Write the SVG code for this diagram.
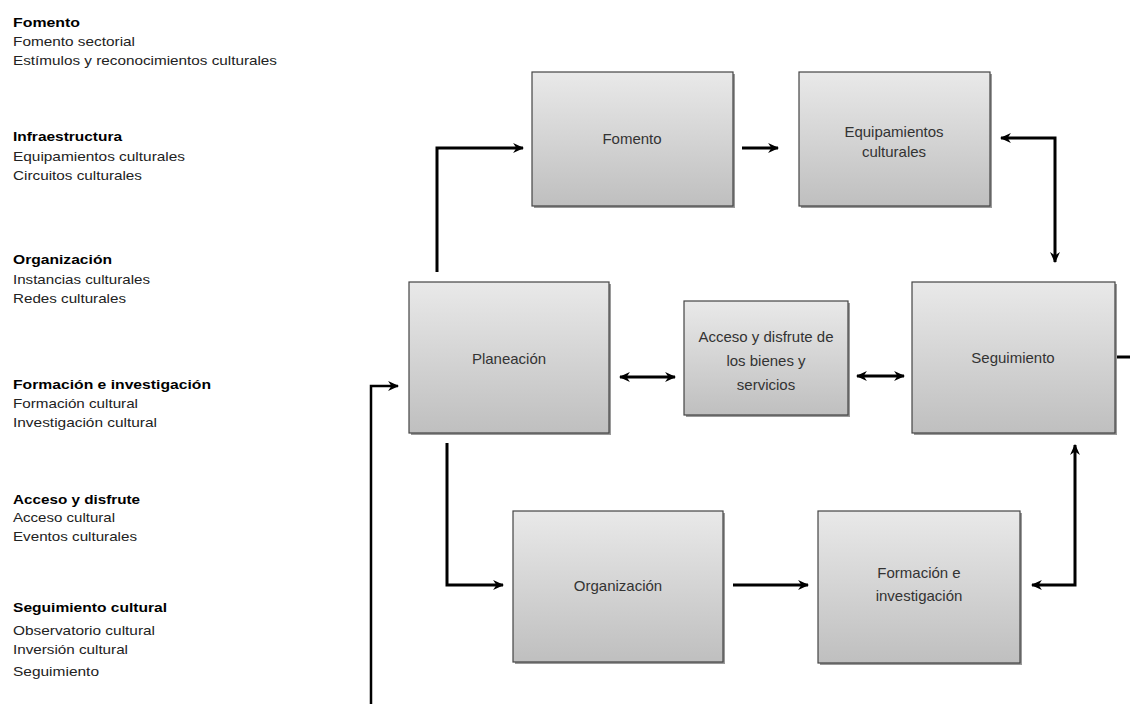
<svg xmlns="http://www.w3.org/2000/svg" width="1130" height="704" viewBox="0 0 1130 704">
<style>
.lt{font-family:"Liberation Sans",Arial,sans-serif;font-size:13px;fill:#222}
.lh{font-family:"Liberation Sans",Arial,sans-serif;font-size:13px;font-weight:bold;fill:#000}
.bt{font-family:"Liberation Sans",Arial,sans-serif;font-size:15px;fill:#333;text-anchor:middle}
.box{fill:url(#g);stroke:#444;stroke-width:1.2}
.sh{fill:#9a9a9a}
.c{fill:none;stroke:#000;stroke-width:3}
</style>
<defs>
<linearGradient id="g" x1="0" y1="0" x2="0" y2="1">
<stop offset="0" stop-color="#e9e9e9"/>
<stop offset="1" stop-color="#bfbfbf"/>
</linearGradient>
<marker id="a" viewBox="0 0 10 10" refX="9" refY="5" markerWidth="11" markerHeight="11" markerUnits="userSpaceOnUse" orient="auto-start-reverse">
<path d="M0,0.5 L10,5 L0,9.5 L3,5 z" fill="#000"/>
</marker>
</defs>
<rect width="1130" height="704" fill="#fff"/>

<g id="legend">
<text class="lh" x="13" y="27" textLength="67" lengthAdjust="spacingAndGlyphs">Fomento</text>
<text class="lt" x="13" y="46" textLength="122" lengthAdjust="spacingAndGlyphs">Fomento sectorial</text>
<text class="lt" x="13" y="65" textLength="264" lengthAdjust="spacingAndGlyphs">Estímulos y reconocimientos culturales</text>
<text class="lh" x="13" y="141" textLength="109" lengthAdjust="spacingAndGlyphs">Infraestructura</text>
<text class="lt" x="13" y="161" textLength="172" lengthAdjust="spacingAndGlyphs">Equipamientos culturales</text>
<text class="lt" x="13" y="180" textLength="129" lengthAdjust="spacingAndGlyphs">Circuitos culturales</text>
<text class="lh" x="13" y="264" textLength="99" lengthAdjust="spacingAndGlyphs">Organización</text>
<text class="lt" x="13" y="284" textLength="137" lengthAdjust="spacingAndGlyphs">Instancias culturales</text>
<text class="lt" x="13" y="303" textLength="113" lengthAdjust="spacingAndGlyphs">Redes culturales</text>
<text class="lh" x="13" y="389" textLength="198" lengthAdjust="spacingAndGlyphs">Formación e investigación</text>
<text class="lt" x="13" y="408" textLength="125" lengthAdjust="spacingAndGlyphs">Formación cultural</text>
<text class="lt" x="13" y="427" textLength="144" lengthAdjust="spacingAndGlyphs">Investigación cultural</text>
<text class="lh" x="13" y="504" textLength="127" lengthAdjust="spacingAndGlyphs">Acceso y disfrute</text>
<text class="lt" x="13" y="522" textLength="102" lengthAdjust="spacingAndGlyphs">Acceso cultural</text>
<text class="lt" x="13" y="541" textLength="124" lengthAdjust="spacingAndGlyphs">Eventos culturales</text>
<text class="lh" x="13" y="612" textLength="154" lengthAdjust="spacingAndGlyphs">Seguimiento cultural</text>
<text class="lt" x="13" y="635" textLength="142" lengthAdjust="spacingAndGlyphs">Observatorio cultural</text>
<text class="lt" x="13" y="654" textLength="115" lengthAdjust="spacingAndGlyphs">Inversión cultural</text>
<text class="lt" x="13" y="676" textLength="86" lengthAdjust="spacingAndGlyphs">Seguimiento</text>
</g>

<g id="fomento">
<rect class="sh" x="534" y="74" width="201" height="134"/>
<rect class="box" x="532" y="72" width="201" height="134"/>
<text class="bt" x="632" y="144">Fomento</text>
</g>
<g id="equipamientos">
<rect class="sh" x="801" y="74" width="191" height="134"/>
<rect class="box" x="799" y="72" width="191" height="134"/>
<text class="bt" x="894" y="137">Equipamientos</text>
<text class="bt" x="894" y="157">culturales</text>
</g>
<g id="planeacion">
<rect class="sh" x="411" y="284" width="200" height="151"/>
<rect class="box" x="409" y="282" width="200" height="151"/>
<text class="bt" x="509" y="364">Planeación</text>
</g>
<g id="acceso">
<rect class="sh" x="686" y="303" width="164" height="114"/>
<rect class="box" x="684" y="301" width="164" height="114"/>
<text class="bt" x="766" y="342">Acceso y disfrute de</text>
<text class="bt" x="766" y="366">los bienes y</text>
<text class="bt" x="766" y="390">servicios</text>
</g>
<g id="seguimiento">
<rect class="sh" x="914" y="284" width="203" height="151"/>
<rect class="box" x="912" y="282" width="203" height="151"/>
<text class="bt" x="1013" y="363">Seguimiento</text>
</g>
<g id="organizacion">
<rect class="sh" x="515" y="513" width="210" height="151"/>
<rect class="box" x="513" y="511" width="210" height="151"/>
<text class="bt" x="618" y="591">Organización</text>
</g>
<g id="formacion">
<rect class="sh" x="820" y="513" width="202" height="152"/>
<rect class="box" x="818" y="511" width="202" height="152"/>
<text class="bt" x="919" y="578">Formación e</text>
<text class="bt" x="919" y="601">investigación</text>
</g>

<g id="connectors">
<path class="c" d="M437,272 V148 H523" marker-end="url(#a)"/>
<path class="c" d="M742,148 H778" marker-end="url(#a)"/>
<path class="c" d="M1001,138 H1055 V262" marker-start="url(#a)" marker-end="url(#a)"/>
<path class="c" d="M620,377 H675" marker-start="url(#a)" marker-end="url(#a)"/>
<path class="c" d="M857,376 H904" marker-start="url(#a)" marker-end="url(#a)"/>
<path class="c" d="M447,443 V585 H503" marker-end="url(#a)"/>
<path class="c" d="M733,585 H808" marker-end="url(#a)"/>
<path class="c" d="M1032,585 H1075 V445" marker-start="url(#a)" marker-end="url(#a)"/>
<path class="c" d="M1117,357 H1130"/>
<path class="c" style="stroke-width:2.5" d="M371,704 V386 H398" marker-end="url(#a)"/>
</g>
</svg>
